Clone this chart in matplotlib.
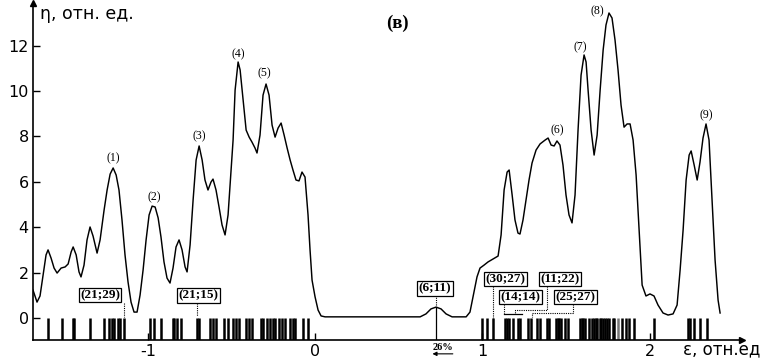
import matplotlib
matplotlib.use("Agg")
import matplotlib.pyplot as plt

# ---- data ----
curve_x = [-1.686, -1.674, -1.662, -1.644, -1.626, -1.608, -1.596, -1.578, -1.560, -1.542,
           -1.518, -1.494, -1.476, -1.458, -1.446, -1.428, -1.411, -1.399, -1.381, -1.363,
           -1.345, -1.327, -1.303, -1.285, -1.261, -1.243, -1.225, -1.207, -1.189, -1.172,
           -1.154, -1.136, -1.118, -1.100, -1.082, -1.064, -1.046, -1.028, -1.010, -0.992,
           -0.974, -0.956, -0.938, -0.921, -0.903, -0.885, -0.867, -0.849, -0.831, -0.813,
           -0.795, -0.777, -0.765, -0.747, -0.729, -0.711, -0.693, -0.675, -0.658, -0.640,
           -0.622, -0.610, -0.592, -0.574, -0.556, -0.538, -0.520, -0.502, -0.490, -0.478,
           -0.460, -0.448, -0.430, -0.412, -0.394, -0.377, -0.359, -0.347, -0.329, -0.311,
           -0.293, -0.275, -0.257, -0.239, -0.221, -0.203, -0.185, -0.167, -0.149, -0.132,
           -0.114, -0.096, -0.078, -0.060, -0.042, -0.030, -0.018, 0.000, 0.018, 0.036,
           0.060, 0.628, 0.663, 0.693, 0.723, 0.753, 0.783, 0.819, 0.903, 0.926,
           0.950, 0.968, 0.986, 1.010, 1.034, 1.064, 1.094, 1.112, 1.130, 1.148,
           1.160, 1.178, 1.195, 1.213, 1.225, 1.243, 1.261, 1.279, 1.297, 1.321,
           1.345, 1.375, 1.393, 1.411, 1.429, 1.446, 1.464, 1.482, 1.500, 1.518,
           1.536, 1.554, 1.572, 1.590, 1.608, 1.620, 1.632, 1.650, 1.668, 1.686,
           1.704, 1.722, 1.739, 1.757, 1.775, 1.793, 1.811, 1.829, 1.847, 1.865,
           1.883, 1.901, 1.919, 1.937, 1.955, 1.978, 2.002, 2.026, 2.050, 2.080,
           2.110, 2.140, 2.164, 2.182, 2.200, 2.218, 2.236, 2.248, 2.266, 2.284,
           2.301, 2.319, 2.337, 2.355, 2.373, 2.391, 2.409, 2.421]
curve_y = [1.23, 0.97, 0.70, 0.97, 1.89, 2.78, 3.00, 2.64, 2.20, 1.98,
           2.20, 2.25, 2.38, 2.91, 3.13, 2.78, 2.03, 1.81, 2.33, 3.44,
           4.01, 3.61, 2.86, 3.44, 4.76, 5.64, 6.34, 6.61, 6.30, 5.64,
           4.32, 2.78, 1.59, 0.70, 0.26, 0.26, 1.01, 2.11, 3.44, 4.54,
           4.93, 4.89, 4.41, 3.57, 2.47, 1.76, 1.54, 2.20, 3.13, 3.44,
           3.00, 2.25, 2.03, 3.22, 5.20, 6.96, 7.58, 6.96, 6.08, 5.64,
           5.99, 6.12, 5.64, 4.89, 4.10, 3.66, 4.54, 6.52, 7.84, 10.04,
           11.28, 10.93, 9.60, 8.28, 7.97, 7.75, 7.49, 7.27, 8.06, 9.82,
           10.31, 9.82, 8.50, 7.97, 8.37, 8.59, 8.06, 7.49, 6.96, 6.52,
           6.08, 6.04, 6.43, 6.21, 4.54, 3.00, 1.67, 0.93, 0.35, 0.09,
           0.05, 0.05, 0.18, 0.40, 0.48, 0.40, 0.18, 0.05, 0.05, 0.26,
           1.15, 1.81, 2.20, 2.33, 2.47, 2.60, 2.73, 3.66, 5.64, 6.43,
           6.52, 5.42, 4.32, 3.74, 3.70, 4.32, 5.20, 6.08, 6.83, 7.40,
           7.67, 7.84, 7.93, 7.62, 7.58, 7.80, 7.62, 6.74, 5.42, 4.54,
           4.19, 5.42, 8.28, 10.70, 11.59, 11.28, 10.04, 8.28, 7.18, 8.06,
           10.04, 11.81, 12.91, 13.44, 13.22, 12.25, 10.93, 9.38, 8.41, 8.55,
           8.55, 7.84, 6.30, 3.88, 1.45, 0.97, 1.06, 0.97, 0.57, 0.22,
           0.13, 0.18, 0.57, 2.11, 3.88, 6.08, 7.18, 7.36, 6.74, 6.08,
           6.87, 7.93, 8.55, 7.84, 5.20, 2.56, 0.79, 0.22]

levels = [-1.599, -1.514, -1.448, -1.440, -1.345, -1.261, -1.230, -1.216, -1.200, -1.178,
          -1.163, -1.145, -0.989, -0.962, -0.921, -0.851, -0.843, -0.825, -0.799, -0.707,
          -0.695, -0.628, -0.610, -0.595, -0.544, -0.520, -0.490, -0.472, -0.457, -0.415,
          -0.392, -0.377, -0.323, -0.311, -0.290, -0.269, -0.254, -0.239, -0.215, -0.197,
          -0.179, -0.149, -0.134, -0.117, -0.072, -0.040,
          0.995, 1.028, 1.061, 1.136, 1.148, 1.160, 1.183, 1.213, 1.225, 1.273,
          1.291, 1.324, 1.345, 1.384, 1.396, 1.441, 1.452, 1.461, 1.473, 1.494,
          1.509, 1.584, 1.593, 1.602, 1.614, 1.635, 1.653, 1.665, 1.677, 1.686,
          1.701, 1.710, 1.721, 1.733, 1.745, 1.757, 1.778, 1.787, 1.832, 1.856,
          1.874, 1.904, 2.023, 2.230, 2.244, 2.268, 2.298, 2.343]
levels_gray = [1.811]

peak_names = ["(1)", "(2)", "(3)", "(4)", "(5)", "(6)", "(7)", "(8)", "(9)"]
box_labels = ["(21;29)", "(21;15)", "(6;11)", "(30;27)", "(11;22)", "(14;14)", "(25;27)"]
yticks = [0, 2, 4, 6, 8, 10, 12]
xticks = [-1, 0, 1, 2]

# ---- figure ----
fig = plt.figure(figsize=(7.73, 3.58), dpi=100)
ax = fig.add_axes([33/773, 18/358, 709/773, 337/358])
ax.set_xlim(-1.686, 2.552)
ax.set_ylim(-0.97, 13.88)

for s in ["top", "right"]:
    ax.spines[s].set_visible(False)
for s in ["left", "bottom"]:
    ax.spines[s].set_linewidth(1.2)

ax.set_yticks(yticks)
ax.set_yticklabels([str(v) for v in yticks])
ax.set_xticks(xticks)
ax.set_xticklabels(["-1", "0", "1", "2"])
ax.tick_params(direction="in", length=5, width=1, labelsize=11.5, pad=3)

# arrows on axes
ax.plot([0], [1], marker="^", color="black", markersize=5, transform=ax.transAxes, clip_on=False)
ax.plot([1], [0], marker=">", color="black", markersize=5, transform=ax.transAxes, clip_on=False)

# curve
ax.plot(curve_x, curve_y, color="black", lw=1.05, solid_joinstyle="round")

# level bars
ax.vlines(levels, -0.97, 0.0, color="black", lw=1.8)
ax.vlines(levels_gray, -0.97, 0.0, color="#777777", lw=1.8)

# peak labels (centre positions)
peak_pos = [(-1.207, 7.05), (-0.962, 5.3), (-0.693, 8.0), (-0.460, 11.6), (-0.305, 10.8),
            (1.446, 8.25), (1.583, 11.95), (1.690, 13.5), (2.337, 8.95)]
for name, (px, py) in zip(peak_names, peak_pos):
    ax.text(px, py, name, ha="center", va="center", fontsize=8.5, family="Liberation Serif")

# boxed labels
box_pos = [(-1.285, 1.01), (-0.696, 0.99), (0.717, 1.30), (1.139, 1.72),
           (1.464, 1.72), (1.228, 0.93), (1.557, 0.93)]
for lab, (bx, by) in zip(box_labels, box_pos):
    ax.text(bx, by, lab, ha="center", va="center", fontsize=9.5, fontweight="bold",
            family="Liberation Serif",
            bbox=dict(boxstyle="square,pad=0.1", fc="white", ec="black", lw=0.9))

dot = dict(color="black", lw=0.8, ls=(0, (1, 1)))
ax.plot([-1.142, -1.142], [0.66, 0.04], **dot)
ax.plot([-0.705, -0.705], [0.66, 0.09], **dot)
ax.plot([0.723, 0.723], [1.01, 0.53], **dot)
ax.plot([0.723, 0.723], [0.48, -0.97], color="black", lw=0.9)
ax.plot([1.064, 1.064], [1.41, 0.0], **dot)
ax.plot([1.130, 1.130], [0.62, 0.18], **dot)
ax.plot([1.130, 1.237], [0.18, 0.18], color="black", lw=0.9)
ax.plot([1.387, 1.387, 1.195, 1.195], [1.41, 0.35, 0.35, 0.18], **dot)
ax.plot([1.542, 1.542, 1.297, 1.297], [0.62, 0.22, 0.22, 0.04], **dot)

# 26% note below axis
ax.text(0.765, -1.28, "26%", ha="center", va="center", fontsize=7.5, fontweight="bold",
        family="Liberation Serif", clip_on=False)
ax.annotate("", xy=(0.685, -1.58), xytext=(0.84, -1.58), xycoords="data",
            arrowprops=dict(arrowstyle="-|>", color="black", lw=0.8, mutation_scale=6),
            annotation_clip=False)

# titles / axis labels
fig.text(40/773, 1 - 14/358, "η, отн. ед.", ha="left", va="center", fontsize=12.5)
fig.text(397/773, 1 - 23/358, "(в)", ha="center", va="center", fontsize=13.5,
         fontweight="bold", family="Liberation Serif")
fig.text(683/773, 1 - 349/358, "ε, отн.ед", ha="left", va="center", fontsize=12)

fig.savefig("out.png", dpi=100)
